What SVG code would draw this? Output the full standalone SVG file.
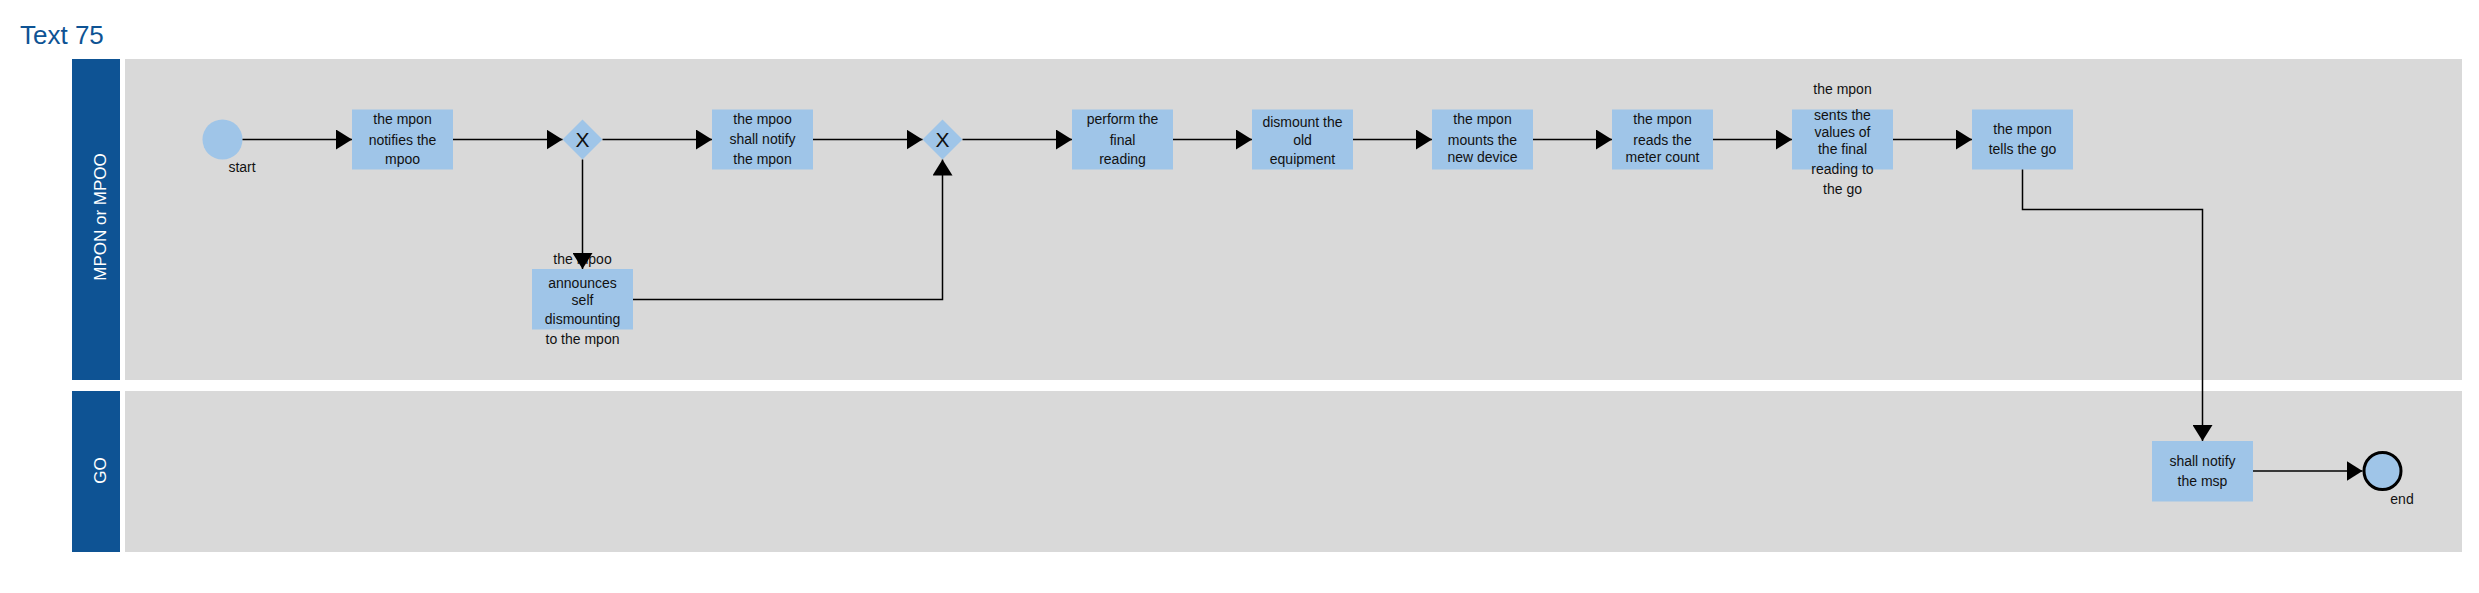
<svg xmlns="http://www.w3.org/2000/svg" width="2479" height="593" viewBox="0 0 2479 593">
<defs>
<style>
.hdr{fill:#0E5394}
.lane{fill:#D9D9D9}
.task{fill:#9FC5E8}
.t{font-family:"Liberation Sans",Arial,sans-serif;font-size:14px;fill:#111;text-anchor:middle}
.lt{font-family:"Liberation Sans",Arial,sans-serif;font-size:17px;fill:#fff;text-anchor:middle}
.gx{font-family:"Liberation Sans",Arial,sans-serif;font-size:21px;fill:#111;text-anchor:middle}
.c{fill:none;stroke:#000;stroke-width:1.5}
</style>
<marker id="arr" markerUnits="userSpaceOnUse" markerWidth="16" markerHeight="20" refX="16" refY="10" orient="auto">
<path d="M0,0 L16,10 L0,20 Z" fill="#000"/>
</marker>
</defs>
<rect width="2479" height="593" fill="#fff"/>
<text x="20" y="44" font-family="'Liberation Sans',Arial,sans-serif" font-size="26" fill="#0E5394">Text 75</text>
<g id="lane-mpon">
<rect class="hdr" x="72" y="59" width="48" height="321"/>
<rect class="lane" x="125" y="59" width="2337" height="321"/>
<text class="lt" transform="translate(105.5,217) rotate(-90)">MPON or MPOO</text>
</g>
<g id="lane-go">
<rect class="hdr" x="72" y="391" width="48" height="161"/>
<rect class="lane" x="125" y="391" width="2337" height="161"/>
<text class="lt" transform="translate(105.5,470.5) rotate(-90)">GO</text>
</g>
<g id="start">
<circle cx="222.5" cy="139.5" r="20" fill="#9FC5E8"/>
<text class="t" x="242" y="171.5">start</text>
</g>
<g id="task1">
<rect class="task" x="352" y="109.5" width="101" height="60"/>
<text class="t" x="402.5" y="124">the mpon</text>
<text class="t" x="402.5" y="144.5">notifies the</text>
<text class="t" x="402.5" y="164">mpoo</text>
</g>
<g id="gw1">
<path class="task" d="M582.5,119.5 L602.5,139.5 L582.5,159.5 L562.5,139.5 Z"/>
<text class="gx" x="582.5" y="147">X</text>
</g>
<g id="task2">
<rect class="task" x="712" y="109.5" width="101" height="60"/>
<text class="t" x="762.5" y="124">the mpoo</text>
<text class="t" x="762.5" y="144">shall notify</text>
<text class="t" x="762.5" y="164">the mpon</text>
</g>
<g id="task-announce">
<rect class="task" x="532" y="269" width="101" height="60.5"/>
<text class="t" x="582.5" y="264">the mpoo</text>
<text class="t" x="582.5" y="288">announces</text>
<text class="t" x="582.5" y="304.5">self</text>
<text class="t" x="582.5" y="323.5">dismounting</text>
<text class="t" x="582.5" y="343.5">to the mpon</text>
</g>
<g id="gw2">
<path class="task" d="M942.5,119.5 L962.5,139.5 L942.5,159.5 L922.5,139.5 Z"/>
<text class="gx" x="942.5" y="147">X</text>
</g>
<g id="task3">
<rect class="task" x="1072" y="109.5" width="101" height="60"/>
<text class="t" x="1122.5" y="124">perform the</text>
<text class="t" x="1122.5" y="145">final</text>
<text class="t" x="1122.5" y="164">reading</text>
</g>
<g id="task4">
<rect class="task" x="1252" y="109.5" width="101" height="60"/>
<text class="t" x="1302.5" y="127">dismount the</text>
<text class="t" x="1302.5" y="145">old</text>
<text class="t" x="1302.5" y="164">equipment</text>
</g>
<g id="task5">
<rect class="task" x="1432" y="109.5" width="101" height="60"/>
<text class="t" x="1482.5" y="124">the mpon</text>
<text class="t" x="1482.5" y="145">mounts the</text>
<text class="t" x="1482.5" y="162">new device</text>
</g>
<g id="task6">
<rect class="task" x="1612" y="109.5" width="101" height="60"/>
<text class="t" x="1662.5" y="124">the mpon</text>
<text class="t" x="1662.5" y="144.5">reads the</text>
<text class="t" x="1662.5" y="161.5">meter count</text>
</g>
<g id="task7">
<rect class="task" x="1792" y="109.5" width="101" height="60"/>
<text class="t" x="1842.5" y="94">the mpon</text>
<text class="t" x="1842.5" y="119.5">sents the</text>
<text class="t" x="1842.5" y="136.5">values of</text>
<text class="t" x="1842.5" y="154">the final</text>
<text class="t" x="1842.5" y="174">reading to</text>
<text class="t" x="1842.5" y="194">the go</text>
</g>
<g id="task8">
<rect class="task" x="1972" y="109.5" width="101" height="60"/>
<text class="t" x="2022.5" y="134">the mpon</text>
<text class="t" x="2022.5" y="154">tells the go</text>
</g>
<g id="task9">
<rect class="task" x="2152" y="441" width="101" height="60.5"/>
<text class="t" x="2202.5" y="465.5">shall notify</text>
<text class="t" x="2202.5" y="485.5">the msp</text>
</g>
<g id="end">
<circle cx="2382.5" cy="471" r="18.5" fill="#9FC5E8" stroke="#000" stroke-width="3"/>
<text class="t" x="2402" y="504">end</text>
</g>
<g id="connectors">
<path class="c" marker-end="url(#arr)" d="M242.5,139.5 L352,139.5"/>
<path class="c" marker-end="url(#arr)" d="M453,139.5 L562.5,139.5"/>
<path class="c" marker-end="url(#arr)" d="M602.5,139.5 L712,139.5"/>
<path class="c" marker-end="url(#arr)" d="M582.5,159.5 L582.5,269"/>
<path class="c" marker-end="url(#arr)" d="M813,139.5 L922.5,139.5"/>
<path class="c" marker-end="url(#arr)" d="M633,299.5 L942.5,299.5 L942.5,159.5"/>
<path class="c" marker-end="url(#arr)" d="M962.5,139.5 L1072,139.5"/>
<path class="c" marker-end="url(#arr)" d="M1173,139.5 L1252,139.5"/>
<path class="c" marker-end="url(#arr)" d="M1353,139.5 L1432,139.5"/>
<path class="c" marker-end="url(#arr)" d="M1533,139.5 L1612,139.5"/>
<path class="c" marker-end="url(#arr)" d="M1713,139.5 L1792,139.5"/>
<path class="c" marker-end="url(#arr)" d="M1893,139.5 L1972,139.5"/>
<path class="c" marker-end="url(#arr)" d="M2022.5,169.5 L2022.5,209.5 L2202.5,209.5 L2202.5,441"/>
<path class="c" marker-end="url(#arr)" d="M2253,471 L2362.5,471"/>
</g>
</svg>
